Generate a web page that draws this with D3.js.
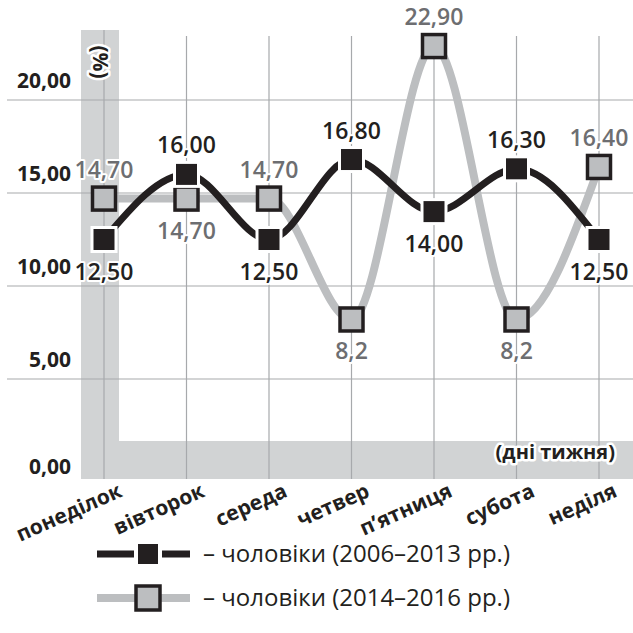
<!DOCTYPE html>
<html>
<head>
<meta charset="utf-8">
<script src="https://cdn.jsdelivr.net/npm/d3@7"></script>
<style>
  html, body { margin: 0; padding: 0; background: #fff; }
  svg { display: block; font-family: "Open Sans", "Noto Sans", sans-serif; }
</style>
</head>
<body>
<svg id="chart" width="633" height="633"></svg>
<script>
// Days of the week
const days = ["понеділок", "вівторок", "середа", "четвер", "п’ятниця", "субота", "неділя"];
// Share of deaths by day of week, %
const men2006 = [12.5, 16.0, 12.5, 16.8, 14.0, 16.3, 12.5];
const men2014 = [14.7, 14.7, 14.7, 8.2, 22.9, 8.2, 16.4];
// Value labels as printed
const men2006Labels = ["12,50", "16,00", "12,50", "16,80", "14,00", "16,30", "12,50"];
const men2014Labels = ["14,70", "14,70", "14,70", "8,2", "22,90", "8,2", "16,40"];
// Y axis ticks
const yTicks = [0, 5, 10, 15, 20];
const yTickLabels = ["0,00", "5,00", "10,00", "15,00", "20,00"];
// Legend entries
const legendLabels = ["– чоловіки (2006–2013 рр.)", "– чоловіки (2014–2016 рр.)"];

const BLACK = "#231f20";
const GREY_LINE = "#bcbec0";
const BAND = "#d1d3d4";
const GRID = "#a7a9ac";
const GREY_TEXT = "#6d6e71";

const svg = d3.select("#chart");

const x = d3.scalePoint().domain(days).range([104, 599]);
const y = d3.scaleLinear().domain([0, 20]).range([472, 100]);

// Axis bands
svg.append("rect").attr("x", 81).attr("y", 30).attr("width", 38).attr("height", 449).attr("fill", BAND);
svg.append("rect").attr("x", 81).attr("y", 441).attr("width", 552).attr("height", 38).attr("fill", BAND);

// Horizontal grid
svg.append("g")
  .selectAll("line")
  .data(yTicks.filter(d => d > 0))
  .join("line")
  .attr("x1", 7).attr("x2", 633)
  .attr("y1", d => y(d)).attr("y2", d => y(d))
  .attr("stroke", GRID).attr("stroke-width", 1.2);

// Vertical grid
svg.append("g")
  .selectAll("line")
  .data(days)
  .join("line")
  .attr("x1", d => x(d)).attr("x2", d => x(d))
  .attr("y1", (d, i) => i === 0 ? 30 : 36).attr("y2", 479)
  .attr("stroke", GRID).attr("stroke-width", 1.2);

// Y axis labels
const yAxis = svg.append("g")
  .attr("transform", "translate(71,0)")
  .call(d3.axisLeft(y).tickValues(yTicks).tickSize(0).tickFormat((d, i) => yTickLabels[i]));
yAxis.select(".domain").remove();
yAxis.selectAll("text")
  .attr("x", 0).attr("dy", null)
  .attr("y", d => d === 0 ? 1 : -13)
  .attr("text-anchor", "end")
  .attr("fill", BLACK)
  .style("font-size", "21px").style("font-weight", 700)
  .style("font-family", "'Open Sans', sans-serif");

// X axis labels
const xAxis = svg.append("g")
  .attr("transform", "translate(0,492)")
  .call(d3.axisBottom(x).tickSize(0));
xAxis.select(".domain").remove();
xAxis.selectAll("text")
  .attr("y", 0).attr("dy", null)
  .attr("text-anchor", "end")
  .attr("transform", "translate(19,4) rotate(-24)")
  .attr("fill", BLACK)
  .style("font-size", "21px").style("font-weight", 700)
  .style("font-family", "'Open Sans', sans-serif");

// Axis titles
svg.append("text")
  .attr("x", 615).attr("y", 459)
  .attr("text-anchor", "end")
  .attr("fill", BLACK).attr("stroke", "#fff").attr("stroke-width", 5)
  .attr("paint-order", "stroke").attr("stroke-linejoin", "round")
  .style("font-size", "20px").style("font-weight", 700)
  .text("(дні тижня)");
svg.append("text")
  .attr("transform", "translate(100,62) rotate(90)")
  .attr("text-anchor", "middle").attr("dy", "0.35em")
  .attr("fill", BLACK).attr("stroke", "#fff").attr("stroke-width", 5)
  .attr("paint-order", "stroke").attr("stroke-linejoin", "round")
  .style("font-size", "21px").style("font-weight", 700)
  .text("(%)");

const line = d3.line()
  .x((d, i) => x(days[i]))
  .y(d => y(d))
  .curve(d3.curveMonotoneX);

// Series lines
svg.append("path").datum(men2014)
  .attr("d", line).attr("fill", "none")
  .attr("stroke", GREY_LINE).attr("stroke-width", 8);
svg.append("path").datum(men2006)
  .attr("d", line).attr("fill", "none")
  .attr("stroke", BLACK).attr("stroke-width", 7);

// Markers
const G_SIZE = 23, B_SIZE = 24;
svg.append("g").selectAll("rect")
  .data(men2014)
  .join("rect")
  .attr("x", (d, i) => x(days[i]) - G_SIZE / 2)
  .attr("y", d => y(d) - G_SIZE / 2)
  .attr("width", G_SIZE).attr("height", G_SIZE)
  .attr("fill", GREY_LINE).attr("stroke", BLACK).attr("stroke-width", 3.5);
svg.append("g").selectAll("rect")
  .data(men2006)
  .join("rect")
  .attr("x", (d, i) => x(days[i]) - B_SIZE / 2)
  .attr("y", d => y(d) - B_SIZE / 2)
  .attr("width", B_SIZE).attr("height", B_SIZE)
  .attr("fill", BLACK).attr("stroke", "#fff").attr("stroke-width", 3);

// Value labels: the series alternate above and below their points
function valueLabels(values, labels, color, aboveOdd) {
  svg.append("g").selectAll("text")
    .data(values)
    .join("text")
    .attr("x", (d, i) => x(days[i]))
    .attr("y", (d, i) => ((i % 2 === 1) === aboveOdd) ? y(d) - 21 : y(d) + 40)
    .attr("text-anchor", "middle")
    .attr("fill", color).attr("stroke", "#fff").attr("stroke-width", 4)
    .attr("paint-order", "stroke").attr("stroke-linejoin", "round")
    .style("font-size", "23px").style("font-weight", 600)
    .text((d, i) => labels[i]);
}
valueLabels(men2014, men2014Labels, GREY_TEXT, false);
valueLabels(men2006, men2006Labels, BLACK, true);

// Legend
const legend = svg.append("g");
const rows = [
  { y: 554, stroke: BLACK, fill: BLACK, box: "#fff", lw: 7 },
  { y: 598, stroke: GREY_LINE, fill: GREY_LINE, box: BLACK, lw: 8 }
];
rows.forEach((r, i) => {
  legend.append("line").attr("x1", 97).attr("x2", 190)
    .attr("y1", r.y).attr("y2", r.y)
    .attr("stroke", r.stroke).attr("stroke-width", r.lw);
  legend.append("rect")
    .attr("x", 136).attr("y", r.y - 12).attr("width", 24).attr("height", 24)
    .attr("fill", r.fill).attr("stroke", r.box).attr("stroke-width", i === 0 ? 4 : 3.5);
  legend.append("text")
    .attr("x", 203).attr("y", r.y).attr("dy", "0.35em")
    .attr("fill", BLACK)
    .style("font-size", "24px")
    .text(legendLabels[i]);
});
</script>
</body>
</html>
